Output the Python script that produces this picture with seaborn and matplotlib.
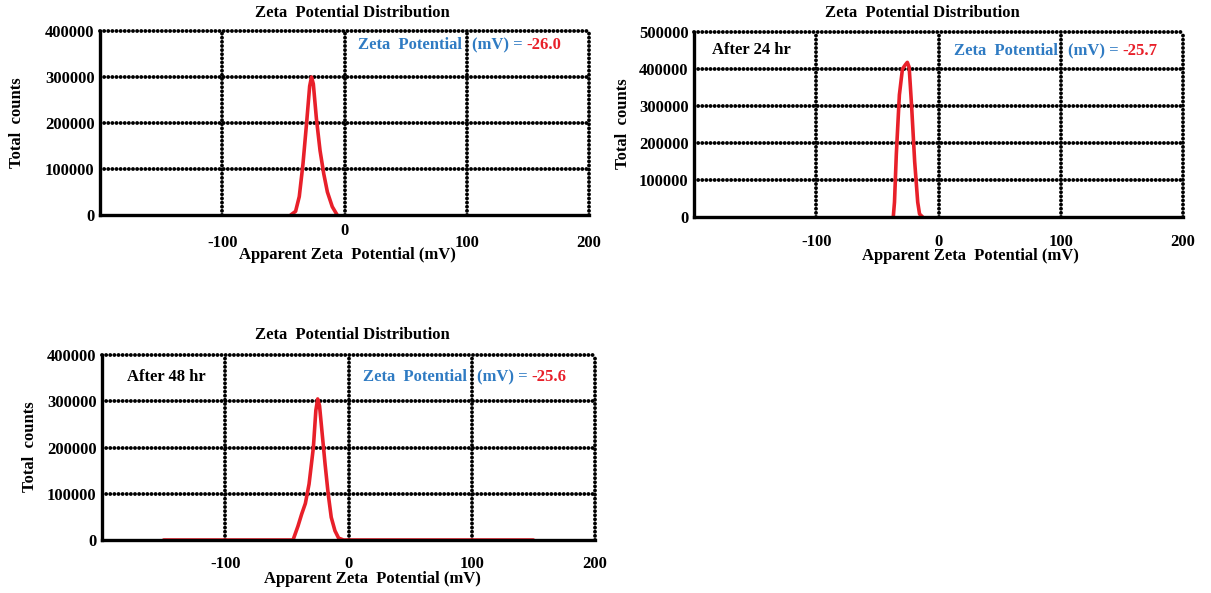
import numpy as np
import pandas as pd
import matplotlib
matplotlib.use("Agg")
import matplotlib.pyplot as plt
import seaborn as sns

# ---- data -------------------------------------------------------------
fresh_mv = [-44, -40, -37, -34, -31, -28.5, -27, -25.5, -23, -20, -17, -14, -10, -6]
fresh_counts = [0, 8000, 40000, 110000, 200000, 280000, 300000, 285000, 210000,
                140000, 90000, 50000, 18000, 0]

day1_mv = [-37, -36, -34.5, -32, -29.5, -27, -25.5, -24, -22, -19.5, -17, -15.5, -13]
day1_counts = [0, 40000, 170000, 330000, 400000, 412000, 418000, 405000, 300000,
               150000, 40000, 8000, 0]

day2_mv = [-150, -45, -41, -38, -35, -32, -28.5, -26.5, -25, -23.5, -21, -19,
           -16.5, -14, -11, -8, -4, 150]
day2_counts = [0, 0, 30000, 56000, 79000, 121000, 200000, 280000, 305000, 290000,
               220000, 164000, 100000, 49000, 20000, 4000, 0, 0]

zeta_values = ["-26.0", "-25.7", "-25.6"]
panel_notes = [None, "After 24 hr", "After 48 hr"]
y_limits = [400000, 500000, 400000]
x_ticks = [-100, 0, 100, 200]
x_tick_labels = ["-100", "0", "100", "200"]

# ---- style ------------------------------------------------------------
sns.set_theme(style="white")
plt.rcParams["font.family"] = ["Liberation Serif", "DejaVu Serif"]
plt.rcParams["font.weight"] = "bold"

BLUE = "#2f7bc3"
RED = "#e8202a"
FS = 12
DOT_LW = 2.8
dotted = (0, (0.01, 1.05))

W, H = 1211, 593
fig = plt.figure(figsize=(W / 100, H / 100), dpi=100)


def px_box(left, top, right, bottom):
    return [left / W, 1 - bottom / H, (right - left) / W, (bottom - top) / H]


panels = [
    dict(box=px_box(100, 31, 589, 215), mv=fresh_mv, counts=fresh_counts,
         title=(352, 13), xlabel=(347, 255), ylabel=(17, 123),
         pads=[14.5, 5.5, 14.5, 14.5], note=None, ann=(358, 45)),
    dict(box=px_box(694, 32, 1183, 217), mv=day1_mv, counts=day1_counts,
         title=(922, 13), xlabel=(970, 256), ylabel=(623, 124),
         pads=[12, 12, 12, 12], note=(712, 50), ann=(954, 51)),
    dict(box=px_box(102, 355, 595, 540), mv=day2_mv, counts=day2_counts,
         title=(352, 335), xlabel=(372, 579), ylabel=(30, 447),
         pads=[11.5, 11.5, 11.5, 11.5], note=(127, 377), ann=(363, 377)),
]

for i, p in enumerate(panels):
    ax = fig.add_axes(p["box"])
    df = pd.DataFrame({"mv": p["mv"], "counts": p["counts"]})
    ymax = y_limits[i]

    ax.set_xlim(-200, 200)
    ax.set_ylim(0, ymax)

    # beaded grid lines
    for gx in [-100, 0, 100]:
        ax.axvline(gx, color="black", lw=DOT_LW, ls=dotted,
                   dash_capstyle="round", zorder=1)
    for gy in range(100000, ymax, 100000):
        ax.axhline(gy, color="black", lw=DOT_LW, ls=dotted,
                   dash_capstyle="round", zorder=1)

    sns.lineplot(data=df, x="mv", y="counts", ax=ax, color=RED, lw=2.6,
                 zorder=3, sort=False)

    # spines
    for side in ["left", "bottom"]:
        ax.spines[side].set_color("black")
        ax.spines[side].set_linewidth(2.4)
        ax.spines[side].set_zorder(4)
    for side in ["top", "right"]:
        ax.spines[side].set_color("black")
        ax.spines[side].set_linewidth(DOT_LW)
        ax.spines[side].set_linestyle(dotted)
        ax.spines[side].set_capstyle("round")

    ax.set_xticks(x_ticks)
    ax.set_xticklabels(x_tick_labels, fontsize=FS, fontweight="bold")
    ax.set_xticks([-150, -50, 50, 150], minor=True)
    yt = list(range(0, ymax + 1, 100000))
    ax.set_yticks(yt)
    ax.set_yticklabels([str(v) for v in yt], fontsize=FS, fontweight="bold")
    ax.set_yticks(list(range(50000, ymax, 100000)), minor=True)
    ax.tick_params(axis="both", which="major", length=0, colors="black")
    ax.tick_params(axis="y", which="major", pad=4)
    ax.tick_params(axis="both", which="minor", length=2.5, width=2.2,
                   direction="inout", color="black")
    for tick, pad in zip(ax.xaxis.get_major_ticks(), p["pads"]):
        tick.set_pad(pad)

    ax.set_xlabel("")
    ax.set_ylabel("")
    ax.set_facecolor("white")

    # titles and axis labels
    tx, ty = p["title"]
    fig.text(tx / W, 1 - ty / H, "Zeta  Potential Distribution", ha="center",
             va="center", fontsize=FS, fontweight="bold", color="black")
    lx, ly = p["xlabel"]
    fig.text(lx / W, 1 - ly / H, "Apparent Zeta  Potential (mV)", ha="center",
             va="center", fontsize=FS, fontweight="bold", color="black")
    vx, vy = p["ylabel"]
    fig.text(vx / W, 1 - vy / H, "Total  counts", ha="center", va="center",
             rotation=90, fontsize=FS, fontweight="bold", color="black")

    if panel_notes[i]:
        nx, ny = p["note"]
        fig.text(nx / W, 1 - ny / H, panel_notes[i], ha="left", va="center",
                 fontsize=FS, fontweight="bold", color="black")

    # zeta potential readout
    axp, ayp = p["ann"]
    t1 = fig.text(axp / W, 1 - ayp / H, "Zeta  Potential", ha="left",
                  va="center", fontsize=FS, fontweight="bold", color=BLUE)
    fig.canvas.draw()
    bb = t1.get_window_extent()
    t2 = fig.text((bb.x1 + 10) / W, 1 - ayp / H, "(mV) = ", ha="left",
                  va="center", fontsize=FS, fontweight="bold", color=BLUE)
    bb2 = t2.get_window_extent()
    fig.text(bb2.x1 / W, 1 - ayp / H, zeta_values[i], ha="left", va="center",
             fontsize=FS, fontweight="bold", color=RED)

fig.savefig("out.png", dpi=100, facecolor="white")
